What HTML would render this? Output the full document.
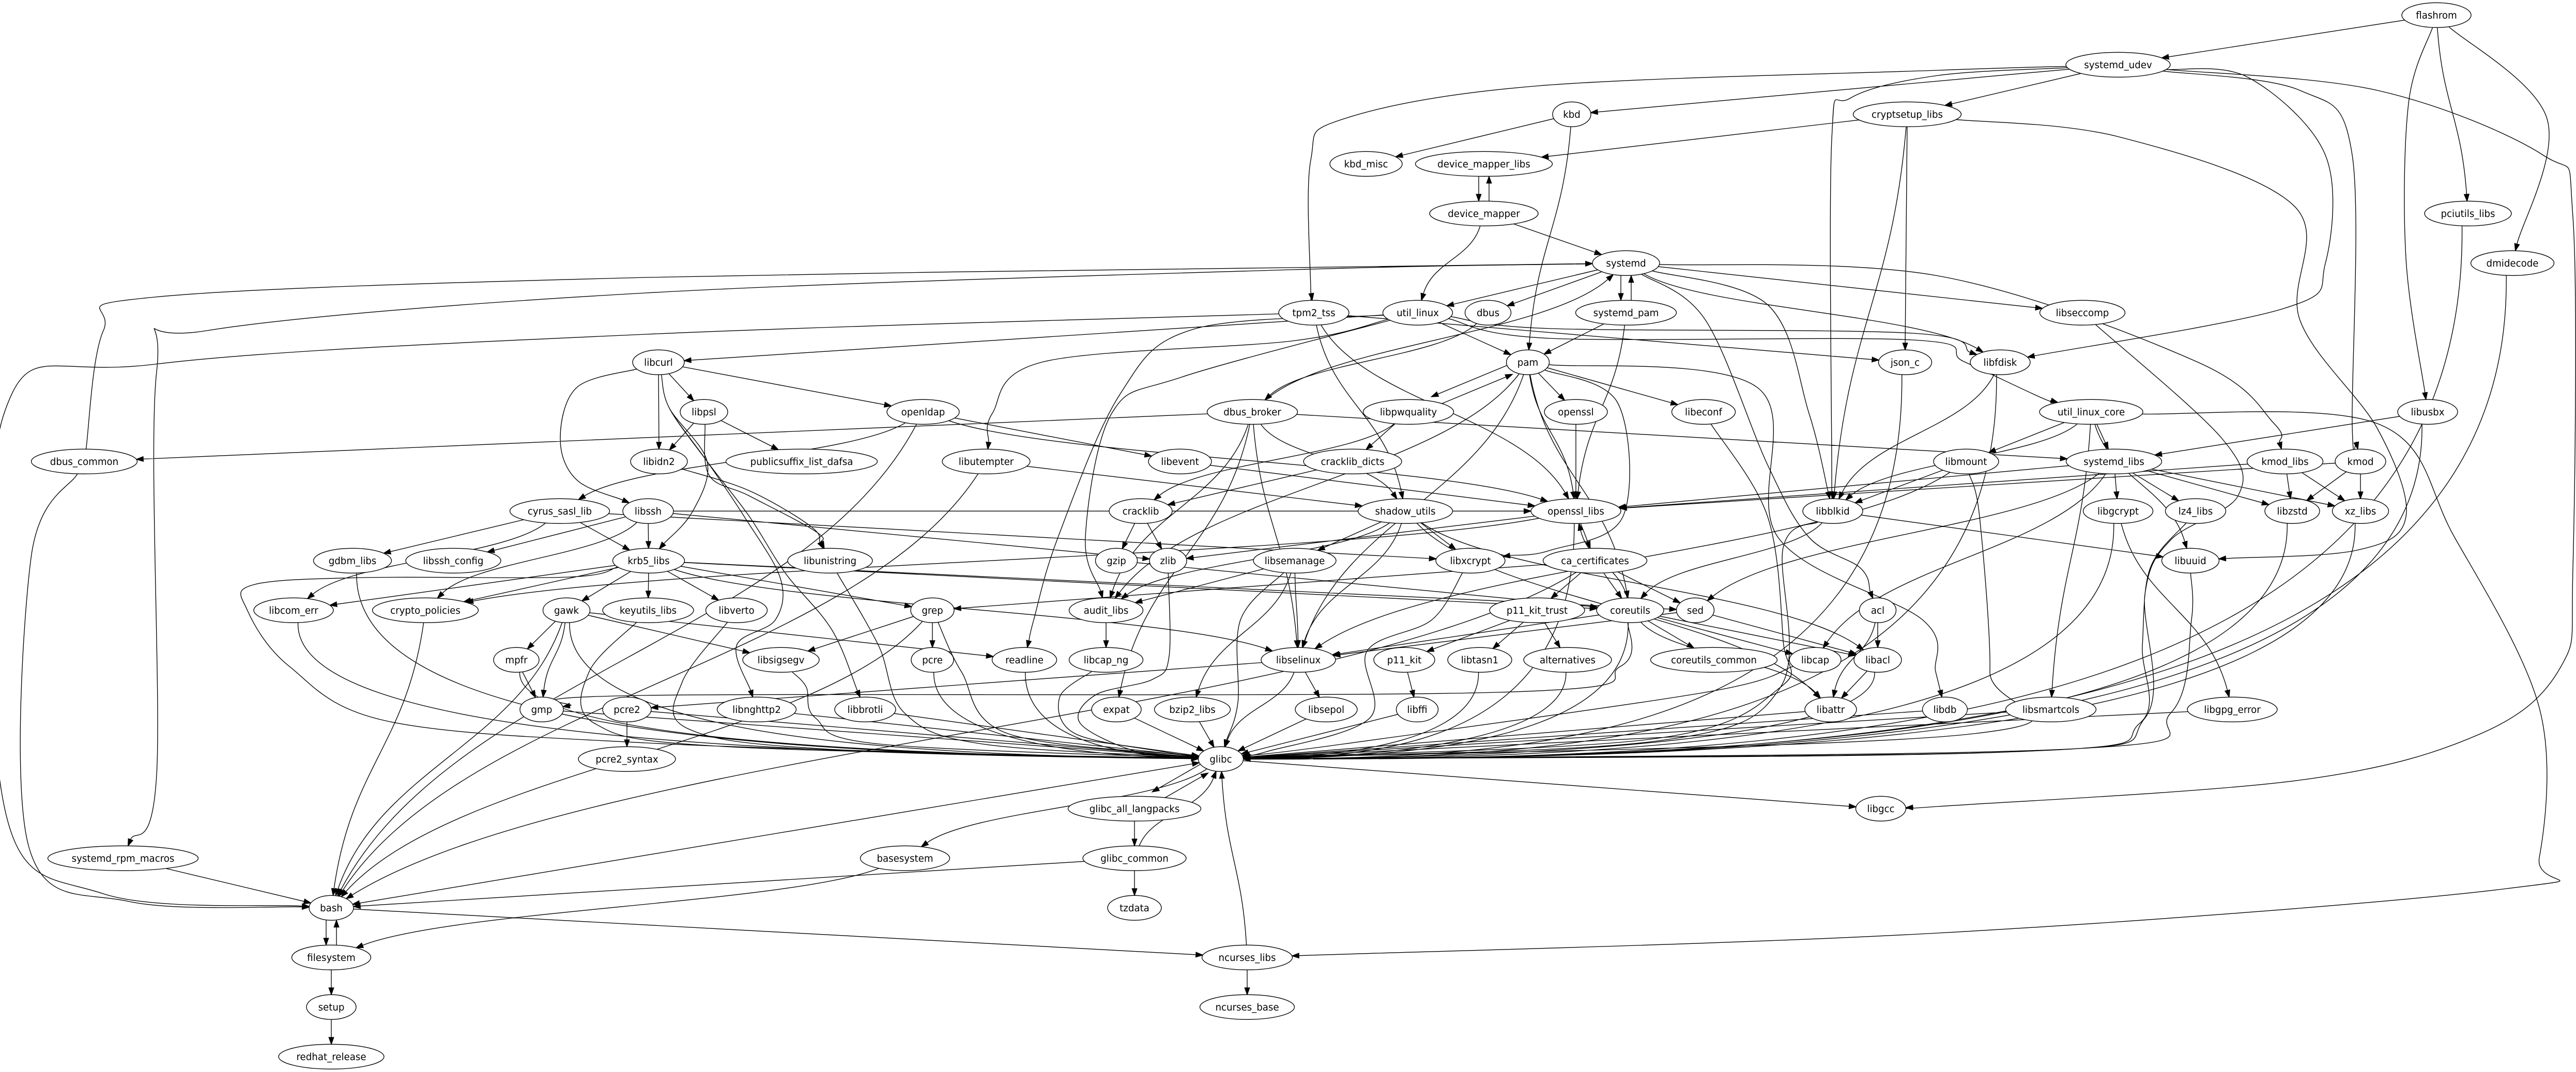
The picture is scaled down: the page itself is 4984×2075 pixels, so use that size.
<!DOCTYPE html>
<html><head><meta charset="utf-8">
<style>
html,body{margin:0;padding:0;background:#fff;}
svg{display:block;}
text{font-family:"DejaVu Sans","Liberation Sans",sans-serif;font-size:18.2px;text-anchor:middle;fill:#000;}
#nodes ellipse{fill:#fff;stroke:#000;stroke-width:1.35;}
</style></head>
<body>
<svg id="g" width="4984" height="2075" viewBox="0 0 4984 2075" xmlns="http://www.w3.org/2000/svg">
<rect x="0" y="0" width="4984" height="2075" fill="#fff"/>
<g id="edges"></g>
<g id="nodes">
<ellipse id="n_flashrom" cx="4714" cy="29.3" rx="67" ry="24"/><text x="4714" y="35.8">flashrom</text>
<ellipse id="n_systemd_udev" cx="4098" cy="125.3" rx="101" ry="24"/><text x="4098" y="131.8">systemd_udev</text>
<ellipse id="n_kbd" cx="3041" cy="221.3" rx="37" ry="24"/><text x="3041" y="227.8">kbd</text>
<ellipse id="n_cryptsetup_libs" cx="3690" cy="221.3" rx="104.5" ry="24"/><text x="3690" y="227.8">cryptsetup_libs</text>
<ellipse id="n_kbd_misc" cx="2643" cy="317.3" rx="70" ry="24"/><text x="2643" y="323.8">kbd_misc</text>
<ellipse id="n_device_mapper_libs" cx="2871" cy="317.3" rx="132.5" ry="24"/><text x="2871" y="323.8">device_mapper_libs</text>
<ellipse id="n_device_mapper" cx="2871" cy="413.3" rx="105" ry="24"/><text x="2871" y="419.8">device_mapper</text>
<ellipse id="n_pciutils_libs" cx="4775" cy="413.3" rx="84" ry="24"/><text x="4775" y="419.8">pciutils_libs</text>
<ellipse id="n_systemd" cx="3146" cy="509.3" rx="65" ry="24"/><text x="3146" y="515.8">systemd</text>
<ellipse id="n_dmidecode" cx="4861" cy="509.3" rx="80.5" ry="24"/><text x="4861" y="515.8">dmidecode</text>
<ellipse id="n_tpm2_tss" cx="2542" cy="605.3" rx="68" ry="24"/><text x="2542" y="611.8">tpm2_tss</text>
<ellipse id="n_util_linux" cx="2743" cy="605.3" rx="67.5" ry="24"/><text x="2743" y="611.8">util_linux</text>
<ellipse id="n_dbus" cx="2879" cy="605.3" rx="44.5" ry="24"/><text x="2879" y="611.8">dbus</text>
<ellipse id="n_systemd_pam" cx="3146" cy="605.3" rx="97.5" ry="24"/><text x="3146" y="611.8">systemd_pam</text>
<ellipse id="n_libseccomp" cx="4029" cy="605.3" rx="82.5" ry="24"/><text x="4029" y="611.8">libseccomp</text>
<ellipse id="n_libcurl" cx="1274" cy="701.3" rx="50" ry="24"/><text x="1274" y="707.8">libcurl</text>
<ellipse id="n_pam" cx="2956" cy="701.3" rx="41.5" ry="24"/><text x="2956" y="707.8">pam</text>
<ellipse id="n_json_c" cx="3686" cy="701.3" rx="51.5" ry="24"/><text x="3686" y="707.8">json_c</text>
<ellipse id="n_libfdisk" cx="3870" cy="701.3" rx="58" ry="24"/><text x="3870" y="707.8">libfdisk</text>
<ellipse id="n_libpsl" cx="1362" cy="797.3" rx="46" ry="24"/><text x="1362" y="803.8">libpsl</text>
<ellipse id="n_openldap" cx="1786" cy="797.3" rx="70" ry="24"/><text x="1786" y="803.8">openldap</text>
<ellipse id="n_dbus_broker" cx="2423" cy="797.3" rx="87.5" ry="24"/><text x="2423" y="803.8">dbus_broker</text>
<ellipse id="n_libpwquality" cx="2725" cy="797.3" rx="87.5" ry="24"/><text x="2725" y="803.8">libpwquality</text>
<ellipse id="n_openssl" cx="3049" cy="797.3" rx="61" ry="24"/><text x="3049" y="803.8">openssl</text>
<ellipse id="n_libeconf" cx="3296" cy="797.3" rx="61.5" ry="24"/><text x="3296" y="803.8">libeconf</text>
<ellipse id="n_util_linux_core" cx="4046" cy="797.3" rx="100" ry="24"/><text x="4046" y="803.8">util_linux_core</text>
<ellipse id="n_libusbx" cx="4697" cy="797.3" rx="58" ry="24"/><text x="4697" y="803.8">libusbx</text>
<ellipse id="n_dbus_common" cx="163" cy="893.3" rx="102.5" ry="24"/><text x="163" y="899.8">dbus_common</text>
<ellipse id="n_libidn2" cx="1275" cy="893.3" rx="55" ry="24"/><text x="1275" y="899.8">libidn2</text>
<ellipse id="n_publicsuffix_list_dafsa" cx="1551" cy="893.3" rx="146.5" ry="24"/><text x="1551" y="899.8">publicsuffix_list_dafsa</text>
<ellipse id="n_libutempter" cx="1908" cy="893.3" rx="85" ry="24"/><text x="1908" y="899.8">libutempter</text>
<ellipse id="n_libevent" cx="2283" cy="893.3" rx="61" ry="24"/><text x="2283" y="899.8">libevent</text>
<ellipse id="n_cracklib_dicts" cx="2617" cy="893.3" rx="95" ry="24"/><text x="2617" y="899.8">cracklib_dicts</text>
<ellipse id="n_libmount" cx="3804" cy="893.3" rx="63" ry="24"/><text x="3804" y="899.8">libmount</text>
<ellipse id="n_systemd_libs" cx="4090" cy="893.3" rx="92.5" ry="24"/><text x="4090" y="899.8">systemd_libs</text>
<ellipse id="n_kmod_libs" cx="4421" cy="893.3" rx="73.5" ry="24"/><text x="4421" y="899.8">kmod_libs</text>
<ellipse id="n_kmod" cx="4567" cy="893.3" rx="49" ry="24"/><text x="4567" y="899.8">kmod</text>
<ellipse id="n_cyrus_sasl_lib" cx="1083" cy="989.3" rx="96.5" ry="24"/><text x="1083" y="995.8">cyrus_sasl_lib</text>
<ellipse id="n_libssh" cx="1254" cy="989.3" rx="49" ry="24"/><text x="1254" y="995.8">libssh</text>
<ellipse id="n_cracklib" cx="2207" cy="989.3" rx="61" ry="24"/><text x="2207" y="995.8">cracklib</text>
<ellipse id="n_shadow_utils" cx="2719" cy="989.3" rx="91.5" ry="24"/><text x="2719" y="995.8">shadow_utils</text>
<ellipse id="n_openssl_libs" cx="3049" cy="989.3" rx="87" ry="24"/><text x="3049" y="995.8">openssl_libs</text>
<ellipse id="n_libblkid" cx="3546" cy="989.3" rx="58" ry="24"/><text x="3546" y="995.8">libblkid</text>
<ellipse id="n_libgcrypt" cx="4098" cy="989.3" rx="67.5" ry="24"/><text x="4098" y="995.8">libgcrypt</text>
<ellipse id="n_lz4_libs" cx="4248" cy="989.3" rx="58.5" ry="24"/><text x="4248" y="995.8">lz4_libs</text>
<ellipse id="n_libzstd" cx="4435" cy="989.3" rx="53" ry="24"/><text x="4435" y="995.8">libzstd</text>
<ellipse id="n_xz_libs" cx="4567" cy="989.3" rx="54.5" ry="24"/><text x="4567" y="995.8">xz_libs</text>
<ellipse id="n_gdbm_libs" cx="682" cy="1085.3" rx="75.5" ry="24"/><text x="682" y="1091.8">gdbm_libs</text>
<ellipse id="n_libssh_config" cx="877" cy="1085.3" rx="92" ry="24"/><text x="877" y="1091.8">libssh_config</text>
<ellipse id="n_krb5_libs" cx="1255" cy="1085.3" rx="69.5" ry="24"/><text x="1255" y="1091.8">krb5_libs</text>
<ellipse id="n_libunistring" cx="1606" cy="1085.3" rx="82" ry="24"/><text x="1606" y="1091.8">libunistring</text>
<ellipse id="n_gzip" cx="2160" cy="1085.3" rx="40.5" ry="24"/><text x="2160" y="1091.8">gzip</text>
<ellipse id="n_zlib" cx="2260" cy="1085.3" rx="36" ry="24"/><text x="2260" y="1091.8">zlib</text>
<ellipse id="n_libsemanage" cx="2505" cy="1085.3" rx="80" ry="24"/><text x="2505" y="1091.8">libsemanage</text>
<ellipse id="n_libxcrypt" cx="2845" cy="1085.3" rx="67" ry="24"/><text x="2845" y="1091.8">libxcrypt</text>
<ellipse id="n_ca_certificates" cx="3086" cy="1085.3" rx="100.5" ry="24"/><text x="3086" y="1091.8">ca_certificates</text>
<ellipse id="n_libuuid" cx="4238" cy="1085.3" rx="55.5" ry="24"/><text x="4238" y="1091.8">libuuid</text>
<ellipse id="n_libcom_err" cx="568" cy="1181.3" rx="77" ry="24"/><text x="568" y="1187.8">libcom_err</text>
<ellipse id="n_crypto_policies" cx="823" cy="1181.3" rx="102.5" ry="24"/><text x="823" y="1187.8">crypto_policies</text>
<ellipse id="n_gawk" cx="1096" cy="1181.3" rx="45.5" ry="24"/><text x="1096" y="1187.8">gawk</text>
<ellipse id="n_keyutils_libs" cx="1254" cy="1181.3" rx="88" ry="24"/><text x="1254" y="1187.8">keyutils_libs</text>
<ellipse id="n_libverto" cx="1425" cy="1181.3" rx="59.5" ry="24"/><text x="1425" y="1187.8">libverto</text>
<ellipse id="n_grep" cx="1804" cy="1181.3" rx="42" ry="24"/><text x="1804" y="1187.8">grep</text>
<ellipse id="n_audit_libs" cx="2140" cy="1181.3" rx="71.5" ry="24"/><text x="2140" y="1187.8">audit_libs</text>
<ellipse id="n_p11_kit_trust" cx="2974" cy="1181.3" rx="92" ry="24"/><text x="2974" y="1187.8">p11_kit_trust</text>
<ellipse id="n_coreutils" cx="3154" cy="1181.3" rx="65" ry="24"/><text x="3154" y="1187.8">coreutils</text>
<ellipse id="n_sed" cx="3280" cy="1181.3" rx="36.5" ry="24"/><text x="3280" y="1187.8">sed</text>
<ellipse id="n_acl" cx="3633" cy="1181.3" rx="35.5" ry="24"/><text x="3633" y="1187.8">acl</text>
<ellipse id="n_mpfr" cx="999" cy="1277.3" rx="44" ry="24"/><text x="999" y="1283.8">mpfr</text>
<ellipse id="n_libsigsegv" cx="1511" cy="1277.3" rx="74" ry="24"/><text x="1511" y="1283.8">libsigsegv</text>
<ellipse id="n_pcre" cx="1804" cy="1277.3" rx="41" ry="24"/><text x="1804" y="1283.8">pcre</text>
<ellipse id="n_readline" cx="1982" cy="1277.3" rx="62.5" ry="24"/><text x="1982" y="1283.8">readline</text>
<ellipse id="n_libcap_ng" cx="2140" cy="1277.3" rx="71.5" ry="24"/><text x="2140" y="1283.8">libcap_ng</text>
<ellipse id="n_libselinux" cx="2512" cy="1277.3" rx="72" ry="24"/><text x="2512" y="1283.8">libselinux</text>
<ellipse id="n_p11_kit" cx="2717" cy="1277.3" rx="59" ry="24"/><text x="2717" y="1283.8">p11_kit</text>
<ellipse id="n_libtasn1" cx="2863" cy="1277.3" rx="62" ry="24"/><text x="2863" y="1283.8">libtasn1</text>
<ellipse id="n_alternatives" cx="3033" cy="1277.3" rx="85" ry="24"/><text x="3033" y="1283.8">alternatives</text>
<ellipse id="n_coreutils_common" cx="3316" cy="1277.3" rx="122.5" ry="24"/><text x="3316" y="1283.8">coreutils_common</text>
<ellipse id="n_libcap" cx="3512" cy="1277.3" rx="50" ry="24"/><text x="3512" y="1283.8">libcap</text>
<ellipse id="n_libacl" cx="3633" cy="1277.3" rx="46" ry="24"/><text x="3633" y="1283.8">libacl</text>
<ellipse id="n_gmp" cx="1048" cy="1373.3" rx="42" ry="24"/><text x="1048" y="1379.8">gmp</text>
<ellipse id="n_pcre2" cx="1213" cy="1373.3" rx="47" ry="24"/><text x="1213" y="1379.8">pcre2</text>
<ellipse id="n_libnghttp2" cx="1464" cy="1373.3" rx="76.5" ry="24"/><text x="1464" y="1379.8">libnghttp2</text>
<ellipse id="n_libbrotli" cx="1674" cy="1373.3" rx="59" ry="24"/><text x="1674" y="1379.8">libbrotli</text>
<ellipse id="n_expat" cx="2160" cy="1373.3" rx="48" ry="24"/><text x="2160" y="1379.8">expat</text>
<ellipse id="n_bzip2_libs" cx="2307" cy="1373.3" rx="73.5" ry="24"/><text x="2307" y="1379.8">bzip2_libs</text>
<ellipse id="n_libsepol" cx="2566" cy="1373.3" rx="60" ry="24"/><text x="2566" y="1379.8">libsepol</text>
<ellipse id="n_libffi" cx="2742" cy="1373.3" rx="40.5" ry="24"/><text x="2742" y="1379.8">libffi</text>
<ellipse id="n_libattr" cx="3542" cy="1373.3" rx="50" ry="24"/><text x="3542" y="1379.8">libattr</text>
<ellipse id="n_libdb" cx="3763" cy="1373.3" rx="43.5" ry="24"/><text x="3763" y="1379.8">libdb</text>
<ellipse id="n_libsmartcols" cx="3968" cy="1373.3" rx="87.5" ry="24"/><text x="3968" y="1379.8">libsmartcols</text>
<ellipse id="n_libgpg_error" cx="4319" cy="1373.3" rx="87" ry="24"/><text x="4319" y="1379.8">libgpg_error</text>
<ellipse id="n_pcre2_syntax" cx="1213" cy="1469.3" rx="94" ry="24"/><text x="1213" y="1475.8">pcre2_syntax</text>
<ellipse id="n_glibc" cx="2362" cy="1469.3" rx="43.5" ry="24"/><text x="2362" y="1475.8">glibc</text>
<ellipse id="n_glibc_all_langpacks" cx="2195" cy="1565.3" rx="128.5" ry="24"/><text x="2195" y="1571.8">glibc_all_langpacks</text>
<ellipse id="n_libgcc" cx="3639" cy="1565.3" rx="48.5" ry="24"/><text x="3639" y="1571.8">libgcc</text>
<ellipse id="n_systemd_rpm_macros" cx="238" cy="1661.3" rx="145.5" ry="24"/><text x="238" y="1667.8">systemd_rpm_macros</text>
<ellipse id="n_basesystem" cx="1751" cy="1661.3" rx="86.5" ry="24"/><text x="1751" y="1667.8">basesystem</text>
<ellipse id="n_glibc_common" cx="2195" cy="1661.3" rx="100" ry="24"/><text x="2195" y="1667.8">glibc_common</text>
<ellipse id="n_bash" cx="641" cy="1757.3" rx="43" ry="24"/><text x="641" y="1763.8">bash</text>
<ellipse id="n_tzdata" cx="2195" cy="1757.3" rx="52" ry="24"/><text x="2195" y="1763.8">tzdata</text>
<ellipse id="n_filesystem" cx="641" cy="1853.3" rx="76.5" ry="24"/><text x="641" y="1859.8">filesystem</text>
<ellipse id="n_ncurses_libs" cx="2413" cy="1853.3" rx="87.5" ry="24"/><text x="2413" y="1859.8">ncurses_libs</text>
<ellipse id="n_setup" cx="641" cy="1949.3" rx="48" ry="24"/><text x="641" y="1955.8">setup</text>
<ellipse id="n_ncurses_base" cx="2413" cy="1949.3" rx="91.5" ry="24"/><text x="2413" y="1955.8">ncurses_base</text>
<ellipse id="n_redhat_release" cx="641" cy="2045.3" rx="102" ry="24"/><text x="641" y="2051.8">redhat_release</text>
</g>
</svg>
<script>
(function(){
var NS="http://www.w3.org/2000/svg";
var V={
"flashrom>libusbx":[[4660,200],[4655,500]],
"flashrom>dmidecode":[[4928,230]],
"systemd_udev>tpm2_tss":[[3750,136],[2978,166],[2600,230],[2536,310],[2536,560]],
"systemd_udev>libblkid":[[3750,146],[3580,190],[3544,270],[3544,900]],
"systemd_udev>libfdisk":[[4350,150],[4499,300],[4499,510],[4419,597]],
"systemd_udev>kmod":[[4450,175],[4551,300],[4551,820]],
"systemd_udev>libgcc":[[4600,175],[4920,300],[4978,420],[4978,1100],[4955,1290],[4800,1420],[4450,1510],[3750,1561]],
"cryptsetup_libs>libuuid":[[4100,265],[4440,400],[4450,620],[4600,830],[4655,1000],[4560,1065]],
"systemd>kmod_libs":[[3750,534],[4250,700],[4400,820]],
"systemd>systemd_rpm_macros":[[2500,522],[1250,567],[400,640],[303,720],[303,1500]],
"systemd>libblkid":[[3420,590],[3500,800]],
"systemd>acl":[[3300,620],[3420,900],[3500,1040],[3600,1100]],
"tpm2_tss>bash":[[1250,647],[300,705],[8,800],[8,1560],[200,1730]],
"util_linux>libfdisk":[[3000,636],[3700,645]],
"util_linux>util_linux_core":[[3000,655],[3700,658],[3800,700],[3950,770]],
"dbus_common>systemd":[[200,640],[300,575],[1250,537],[2500,518]],
"dbus_common>bash":[[60,1080],[56,1640],[250,1745]],
"util_linux_core>ncurses_libs":[[4600,820],[4749,1040],[4913,1370],[4913,1660],[4850,1720],[3750,1806]],
"coreutils>gmp":[[3135,1290],[2900,1340],[1250,1346]],
"pam>libxcrypt":[[3130,780],[3140,1000],[3000,1065]],
"util_linux>libutempter":[[2500,660],[2020,700],[1920,800]],
"libcurl>libssh":[[1116,750],[1084,849],[1116,929]],
"libcurl>krb5_libs":[[1295,790],[1368,893],[1340,990]],
"libcurl>libnghttp2":[[1295,790],[1368,893],[1440,1000],[1510,1120],[1500,1200],[1425,1250]],
"libcurl>libbrotli":[[1295,790],[1368,893],[1450,1000],[1520,1110],[1610,1220]],
"krb5_libs>glibc":[[1100,1117],[700,1118],[490,1132],[478,1180],[560,1290],[750,1396],[1250,1438],[2000,1462]],
"keyutils_libs>glibc":[[1140,1300],[1150,1400],[1400,1445]],
"libverto>glibc":[[1320,1320],[1330,1410],[1600,1450]],
"libsigsegv>glibc":[[1560,1330],[1578,1390],[1700,1440]],
"libunistring>glibc":[[1700,1250],[1750,1380],[1900,1440]],
"grep>glibc":[[1860,1300],[1950,1420]],
"zlib>glibc":[[2262,1270],[2230,1315],[2120,1345],[2090,1400],[2200,1455]],
"libcap_ng>glibc":[[2050,1350],[2080,1420],[2250,1455]],
"libsemanage>glibc":[[2400,1200],[2395,1360]],
"libxcrypt>glibc":[[2770,1200],[2645,1260],[2650,1390],[2450,1455]],
"libcap>glibc":[[3300,1340],[2600,1440]],
"libblkid>glibc":[[3450,1060],[3445,1330],[3200,1435]],
"libeconf>glibc":[[3420,1000],[3450,1240],[3445,1330],[3200,1430]],
"libuuid>glibc":[[4240,1200],[4200,1380],[4000,1450]],
"lz4_libs>glibc":[[4160,1100],[4145,1250],[4140,1400],[3900,1455]],
"libseccomp>glibc":[[4300,850],[4330,960],[4200,1045],[4150,1150],[4150,1390],[3900,1455]],
"libmount>glibc":[[3830,1000],[3850,1300],[3820,1420]],
"pam>libdb":[[3400,750],[3440,1040],[3720,1200],[3745,1300]],
"util_linux>readline":[[2310,637],[2167,763],[2047,1040],[2000,1200]],
"util_linux>audit_libs":[[2286,730],[2151,800],[2100,1040]],
"libpsl>libunistring":[[1372,920],[1450,960],[1580,1030]],
"libidn2>libunistring":[[1450,950],[1570,1020]]
};
var E=[
["flashrom","systemd_udev"],["flashrom","libusbx"],["flashrom","pciutils_libs"],["flashrom","dmidecode"],
["systemd_udev","tpm2_tss"],["systemd_udev","kbd"],["systemd_udev","cryptsetup_libs"],["systemd_udev","libblkid"],["systemd_udev","libfdisk"],["systemd_udev","kmod"],["systemd_udev","libgcc"],
["kbd","kbd_misc"],["kbd","pam"],
["cryptsetup_libs","device_mapper_libs"],["cryptsetup_libs","json_c"],["cryptsetup_libs","libblkid"],["cryptsetup_libs","libuuid"],
["device_mapper_libs","device_mapper",10],["device_mapper","device_mapper_libs",10],["device_mapper","systemd"],["device_mapper","util_linux"],
["systemd","util_linux"],["systemd","dbus"],["systemd","systemd_pam",10],["systemd_pam","systemd",10],["systemd","libblkid"],["systemd","libfdisk"],["systemd","libseccomp"],["systemd","kmod_libs"],["systemd","systemd_rpm_macros"],["systemd","acl"],
["systemd_pam","pam"],["systemd_pam","openssl_libs"],
["dbus","dbus_broker"],
["dbus_broker","systemd"],["dbus_broker","dbus_common"],["dbus_broker","audit_libs"],["dbus_broker","expat"],["dbus_broker","libselinux"],["dbus_broker","shadow_utils"],["dbus_broker","systemd_libs"],
["tpm2_tss","bash"],["tpm2_tss","json_c"],["tpm2_tss","openssl_libs"],["tpm2_tss","shadow_utils"],
["util_linux","libcurl"],["util_linux","pam"],["util_linux","libfdisk"],["util_linux","util_linux_core"],["util_linux","libutempter"],["util_linux","audit_libs"],["util_linux","readline"],
["dbus_common","systemd"],["dbus_common","bash"],
["libcurl","libpsl"],["libcurl","libidn2"],["libcurl","openldap"],["libcurl","libssh"],["libcurl","krb5_libs"],["libcurl","libnghttp2"],["libcurl","libbrotli"],
["pam","libpwquality",10],["libpwquality","pam",10],["pam","openssl"],["pam","libeconf"],["pam","openssl_libs"],["pam","audit_libs"],["pam","libxcrypt"],["pam","libselinux"],["pam","libdb"],["pam","coreutils"],
["json_c","glibc"],["libfdisk","libblkid"],["libfdisk","glibc"],
["libpsl","libidn2"],["libpsl","publicsuffix_list_dafsa"],["libpsl","libunistring"],
["openldap","libevent"],["openldap","cyrus_sasl_lib"],["openldap","openssl_libs"],["openldap","bash"],
["libpwquality","cracklib_dicts"],["libpwquality","cracklib"],
["openssl","openssl_libs"],["libeconf","glibc"],
["util_linux_core","libblkid"],["util_linux_core","libmount"],["util_linux_core","systemd_libs"],["util_linux_core","libsmartcols"],["util_linux_core","libuuid"],["util_linux_core","ncurses_libs"],
["libusbx","systemd_libs"],["libusbx","glibc"],
["libidn2","libunistring"],
["libutempter","shadow_utils"],["libutempter","bash"],
["libevent","openssl_libs"],
["cracklib_dicts","cracklib"],
["libmount","libblkid"],["libmount","libselinux"],["libmount","glibc"],
["systemd_libs","openssl_libs"],["systemd_libs","libgcrypt"],["systemd_libs","lz4_libs"],["systemd_libs","libzstd"],["systemd_libs","xz_libs"],["systemd_libs","libcap"],["systemd_libs","sed"],
["kmod_libs","openssl_libs"],["kmod_libs","libzstd"],["kmod_libs","xz_libs"],
["kmod","libzstd"],["kmod","xz_libs"],["kmod","openssl_libs"],
["cyrus_sasl_lib","gdbm_libs"],["cyrus_sasl_lib","krb5_libs"],["cyrus_sasl_lib","libxcrypt"],["cyrus_sasl_lib","libcom_err"],
["libssh","libssh_config"],["libssh","krb5_libs"],["libssh","crypto_policies"],["libssh","zlib"],["libssh","openssl_libs"],
["cracklib","gzip"],["cracklib","zlib"],
["shadow_utils","libsemanage"],["shadow_utils","libxcrypt"],["shadow_utils","audit_libs"],["shadow_utils","libselinux"],["shadow_utils","libacl"],["shadow_utils","libattr"],
["openssl_libs","ca_certificates"],["openssl_libs","crypto_policies"],["openssl_libs","zlib"],["openssl_libs","glibc"],
["libblkid","libuuid"],["libblkid","coreutils"],["libblkid","glibc"],
["libgcrypt","libgpg_error"],["libgcrypt","glibc"],
["lz4_libs","glibc"],["libzstd","glibc"],["xz_libs","glibc"],
["gdbm_libs","glibc"],
["krb5_libs","crypto_policies"],["krb5_libs","libcom_err"],["krb5_libs","gawk"],["krb5_libs","keyutils_libs"],["krb5_libs","libverto"],["krb5_libs","grep"],["krb5_libs","sed"],["krb5_libs","coreutils"],["krb5_libs","libselinux"],["krb5_libs","glibc"],
["libunistring","glibc"],
["gzip","coreutils"],
["zlib","glibc"],
["libsemanage","audit_libs"],["libsemanage","libselinux"],["libsemanage","bzip2_libs"],["libsemanage","glibc"],
["libxcrypt","glibc"],
["ca_certificates","bash"],["ca_certificates","p11_kit_trust"],["ca_certificates","coreutils"],["ca_certificates","sed"],["ca_certificates","grep"],
["libuuid","glibc"],
["libcom_err","glibc"],
["crypto_policies","bash"],
["gawk","mpfr"],["gawk","gmp"],["gawk","libsigsegv"],["gawk","readline"],["gawk","glibc"],["gawk","bash"],
["keyutils_libs","glibc"],["libverto","glibc"],
["grep","pcre"],["grep","libsigsegv"],["grep","glibc"],["grep","bash"],
["audit_libs","libcap_ng"],
["p11_kit_trust","p11_kit"],["p11_kit_trust","libtasn1"],["p11_kit_trust","alternatives"],
["coreutils","coreutils_common"],["coreutils","libcap"],["coreutils","libacl"],["coreutils","libattr"],["coreutils","libselinux"],["coreutils","gmp"],["coreutils","openssl_libs"],["coreutils","glibc"],
["sed","libacl"],["sed","libselinux"],
["acl","libacl"],["acl","libattr"],
["mpfr","gmp"],["mpfr","glibc"],
["libsigsegv","glibc"],["pcre","glibc"],["readline","glibc"],["libcap_ng","glibc"],
["libselinux","libsepol"],["libselinux","pcre2"],["libselinux","glibc"],
["p11_kit","libffi"],
["libtasn1","glibc"],["alternatives","glibc"],["libcap","glibc"],["libacl","libattr"],["libacl","glibc"],
["gmp","glibc"],["pcre2","pcre2_syntax"],["pcre2","glibc"],["libnghttp2","glibc"],["libbrotli","glibc"],["expat","glibc"],["bzip2_libs","glibc"],["libsepol","glibc"],["libffi","glibc"],["libattr","glibc"],["libdb","glibc"],["libsmartcols","glibc"],["libgpg_error","glibc"],
["libseccomp","glibc"],["dmidecode","glibc"],["pciutils_libs","glibc"],
["glibc","glibc_all_langpacks",11],["glibc_all_langpacks","glibc",11],["glibc","basesystem"],["glibc","libgcc"],["glibc","bash","both"],
["glibc_all_langpacks","glibc_common"],["glibc_common","glibc"],["glibc_common","bash"],["glibc_common","tzdata"],
["systemd_rpm_macros","bash"],["basesystem","filesystem"],
["bash","filesystem",10],["filesystem","bash",10],["bash","ncurses_libs"],
["filesystem","setup"],["setup","redhat_release"],
["ncurses_libs","glibc"],["ncurses_libs","ncurses_base"]
];
function N(n){var e=document.getElementById("n_"+n);return{x:+e.getAttribute("cx"),y:+e.getAttribute("cy"),rx:+e.getAttribute("rx"),ry:24};}
function bnd(n,p){var dx=p[0]-n.x,dy=p[1]-n.y;if(Math.abs(dx)<1e-6&&Math.abs(dy)<1e-6)dy=1;var t=1/Math.sqrt(dx*dx/(n.rx*n.rx)+dy*dy/(n.ry*n.ry));return[n.x+dx*t,n.y+dy*t];}
function f(v){return v.toFixed(1);}
var D="",A="";
function arrow(tip,from){var ux=tip[0]-from[0],uy=tip[1]-from[1];var L=Math.sqrt(ux*ux+uy*uy)||1;ux/=L;uy/=L;var bx=tip[0]-ux*13.3,by=tip[1]-uy*13.3;var nx=-uy*4.7,ny=ux*4.7;A+="M"+f(tip[0])+","+f(tip[1])+"L"+f(bx+nx)+","+f(by+ny)+"L"+f(bx-nx)+","+f(by-ny)+"Z";return[bx,by];}
function draw(P,both){
  var n=P.length,tip=P[n-1],prev=P[n-2];
  if(Math.abs(prev[0]-tip[0])+Math.abs(prev[1]-tip[1])<0.5)prev=P[n-3];
  var b=arrow(tip,prev);var dx=b[0]-tip[0],dy=b[1]-tip[1];
  P[n-1]=b;P[n-2]=[P[n-2][0]+dx,P[n-2][1]+dy];
  if(both){var t0=P[0],nx=P[1];var b0=arrow(t0,nx);var ex=b0[0]-t0[0],ey=b0[1]-t0[1];P[0]=b0;P[1]=[nx[0]+ex,nx[1]+ey];}
  var s="M"+f(P[0][0])+","+f(P[0][1]);
  for(var i=1;i+2<n;i+=3)s+="C"+f(P[i][0])+","+f(P[i][1])+" "+f(P[i+1][0])+","+f(P[i+1][1])+" "+f(P[i+2][0])+","+f(P[i+2][1]);
  D+=s;
}
function lerp(p,q,t){return[p[0]+(q[0]-p[0])*t,p[1]+(q[1]-p[1])*t];}
for(var k=0;k<E.length;k++){
  var a=E[k][0],b=E[k][1],opt=E[k][2];
  var S=N(a),T=N(b);
  var via=V[a+">"+b];
  if(via){
    var pts=[bnd(S,via[0])].concat(via,[bnd(T,via[via.length-1])]);
    var P=[pts[0]];
    for(var i=0;i<pts.length-1;i++){
      var p0=pts[Math.max(i-1,0)],p1=pts[i],p2=pts[i+1],p3=pts[Math.min(i+2,pts.length-1)];
      P.push([p1[0]+(p2[0]-p0[0])/6,p1[1]+(p2[1]-p0[1])/6],[p2[0]-(p3[0]-p1[0])/6,p2[1]-(p3[1]-p1[1])/6],p2);
    }
    draw(P,false);continue;
  }
  var dx=T.x-S.x,dy=T.y-S.y,span=Math.abs(dy)/96;
  if(typeof opt==="number"){
    var P0=bnd(S,[T.x,T.y]),P3=bnd(T,[S.x,S.y]);
    var lx=P3[0]-P0[0],ly=P3[1]-P0[1],LL=Math.sqrt(lx*lx+ly*ly)||1;
    var px=-ly/LL,py=lx/LL;
    P0=[P0[0]+px*opt,P0[1]+py*opt];P3=[P3[0]+px*opt,P3[1]+py*opt];
    draw([P0,lerp(P0,P3,1/3),lerp(P0,P3,2/3),P3],false);continue;
  }
  if(opt==="both"||span<=1.05){
    var P0=bnd(S,[T.x,T.y]),P3=bnd(T,[S.x,S.y]);
    draw([P0,lerp(P0,P3,1/3),lerp(P0,P3,2/3),P3],opt==="both");continue;
  }
  var c1,c2,P0,P3;
  if(b==="glibc"&&Math.abs(dx)>250&&dy>0){
    c1=[S.x,T.y-35];
    c2=[T.x-dx*0.45,T.y-5+Math.max(-10,Math.min(10,-dx/400))];
    P0=bnd(S,[S.x+dx*0.02,S.y+100]);P3=bnd(T,c2);
  }else{
    c1=[S.x+dx*0.2,S.y+dy*0.45];c2=[T.x-dx*0.2,T.y-dy*0.45];
    P0=bnd(S,c1);P3=bnd(T,c2);
  }
  draw([P0,c1,c2,P3],false);
}
var g=document.getElementById("edges");
var pe=document.createElementNS(NS,"path");pe.setAttribute("d",D);pe.setAttribute("fill","none");pe.setAttribute("stroke","#000");pe.setAttribute("stroke-width","1.35");g.appendChild(pe);
var pa=document.createElementNS(NS,"path");pa.setAttribute("d",A);pa.setAttribute("fill","#000");pa.setAttribute("stroke","#000");pa.setAttribute("stroke-width","1.35");g.appendChild(pa);
})();
</script>
</body></html>
